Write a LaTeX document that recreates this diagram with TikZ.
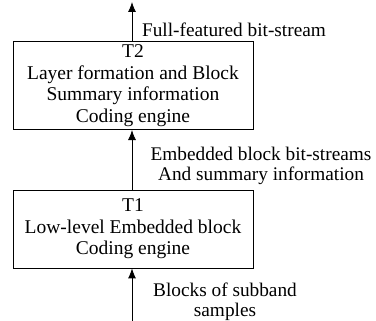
\documentclass[tikz,border=0pt]{standalone}
\usepackage{fontspec}
\setmainfont{Liberation Serif}
\usetikzlibrary{arrows.meta}

\begin{document}
\begin{tikzpicture}[x=1pt,y=-1pt,
    engine/.style={draw, thick, minimum width=240pt, align=center,
      font=\fontsize{19.5}{21.5}\selectfont},
    lbl/.style={align=center, font=\fontsize{19.3}{20}\selectfont},
    flow/.style={thick, -{Latex[length=10pt,width=8pt]}}]
    \useasboundingbox (0,0) rectangle (376,321);
    \node [engine, minimum height=85pt] (t2) at (133,85.5)
      {T2\\Layer formation and Block\\Summary information\\Coding engine};
    \node [engine, minimum height=78pt] (t1) at (133,229)
      {T1\\Low-level Embedded block\\Coding engine};
    \coordinate (out) at (132,2);
    \coordinate (in) at (132,321);
    \draw [flow] (t2.north -| out) -- (out);
    \draw [flow] (t1.north -| out) -- (t2.south -| out);
    \draw [flow] (in) -- (t1.south -| in);
    \node [lbl] (fullbs) at (234,30) {Full-featured bit-stream};
    \node [lbl] (embbs) at (261,166) {Embedded block bit-streams\\And summary information};
    \node [lbl] (subband) at (225,302) {Blocks of subband\\samples};
\end{tikzpicture}
\end{document}
